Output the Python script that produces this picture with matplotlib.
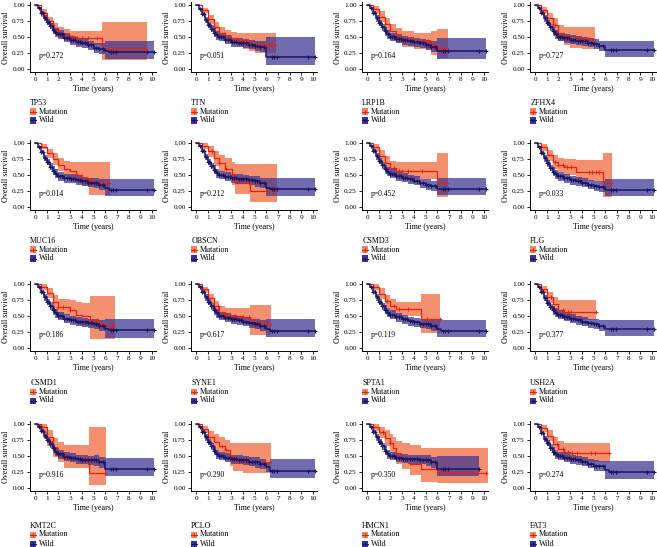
import numpy as np
import matplotlib
matplotlib.use("Agg")
import matplotlib.pyplot as plt
from matplotlib.patches import Rectangle
from matplotlib.lines import Line2D

plt.rcParams["font.family"] = ["Liberation Serif", "DejaVu Serif"]

genes = ["TP53", "TTN", "LRP1B", "ZFHX4",
         "MUC16", "OBSCN", "CSMD3", "FLG",
         "CSMD1", "SYNE1", "SPTA1", "USH2A",
         "KMT2C", "PCLO", "HMCN1", "FAT3"]
p_values = ["0.272", "0.051", "0.164", "0.727",
            "0.014", "0.212", "0.452", "0.033",
            "0.186", "0.617", "0.119", "0.377",
            "0.916", "0.290", "0.350", "0.274"]

# mutation group: step times, survival, CI lower / upper
mut_t = [
    [0, .5, 1, 1.5, 2, 2.5, 3, 3.5, 5.7, 9.6],
    [0, .5, 1, 1.5, 2, 2.5, 3, 3.5, 4, 4.5, 5, 6.8],
    [0, .5, 1, 1.5, 2, 2.5, 3, 4, 5, 5.5, 6, 6.9],
    [0, .5, 1, 1.5, 2, 2.5, 3, 4, 5.1],
    [0, .5, 1, 1.5, 2, 2.5, 3, 3.5, 4, 4.6, 5, 6.4],
    [0, .5, 1, 1.5, 2, 2.5, 3.1, 3.3, 4.6, 6.9],
    [0, .5, 1, 1.5, 2, 2.5, 6.0, 6.9],
    [0, .5, 1, 1.5, 2, 2.5, 3.5, 5.8, 6.6],
    [0, .5, 1, 1.5, 2, 3, 3.5, 4, 4.7, 5.5, 6, 6.8],
    [0, .5, 1, 1.5, 2, 2.5, 3, 4, 4.6, 5, 6, 6.4],
    [0, .5, 1, 1.5, 2, 2.5, 4.6, 6.2],
    [0, .5, 1, 1.5, 2, 2.5, 5.2],
    [0, .5, 1, 1.5, 2, 2.5, 4.6, 6.1],
    [0, .5, 1, 1.5, 2, 2.5, 2.9, 3.2, 4, 6.4],
    [0, .5, 1, 1.5, 2, 2.2, 2.5, 3, 3.7, 4.6, 6.0, 10.3],
    [0, .5, 1, 1.5, 2, 2.5, 3, 6.45],
]
mut_s = [
    [1, .88, .75, .64, .57, .53, .50, .48, .32, .32],
    [1, .92, .78, .65, .57, .52, .48, .46, .43, .40, .38, .38],
    [1, .93, .82, .70, .59, .52, .47, .44, .43, .38, .33, .33],
    [1, .92, .79, .68, .56, .51, .49, .47, .46],
    [1, .94, .84, .75, .66, .60, .56, .50, .45, .41, .37, .37],
    [1, .96, .88, .76, .68, .60, .50, .37, .25, .25],
    [1, .93, .80, .69, .61, .57, .37, .37],
    [1, .93, .81, .71, .66, .63, .55, .37, .37],
    [1, .96, .86, .72, .64, .60, .52, .50, .44, .38, .34, .34],
    [1, .92, .78, .65, .57, .52, .50, .48, .45, .40, .37, .37],
    [1, .95, .85, .73, .65, .61, .46, .46],
    [1, .92, .79, .68, .60, .57, .57],
    [1, .95, .79, .63, .55, .47, .23, .23],
    [1, .92, .79, .72, .66, .60, .50, .43, .41, .41],
    [1, .95, .88, .78, .70, .62, .53, .46, .37, .30, .23, .23],
    [1, .93, .81, .69, .61, .57, .54, .54],
]
mut_hi = [
    [1, .93, .82, .72, .65, .62, .60, .60, .73, .73],
    [1, .96, .85, .73, .65, .61, .58, .57, .56, .56, .56, .56],
    [1, .98, .90, .80, .70, .64, .60, .57, .57, .60, .63, .63],
    [1, .97, .88, .79, .68, .66, .66, .66, .66],
    [1, .98, .91, .84, .76, .72, .70, .70, .70, .70, .70, .70],
    [1, 1.0, .96, .88, .82, .76, .70, .67, .67, .67],
    [1, .98, .89, .80, .72, .70, .85, .85],
    [1, .98, .89, .81, .76, .75, .74, .85, .85],
    [1, 1.0, .93, .83, .77, .75, .72, .70, .82, .82, .82, .82],
    [1, .96, .85, .74, .66, .63, .63, .63, .67, .67, .67, .67],
    [1, 1.0, .93, .83, .76, .72, .84, .84],
    [1, .97, .88, .79, .75, .75, .75],
    [1, 1.0, .90, .78, .72, .67, .96, .96],
    [1, .97, .89, .85, .80, .75, .70, .70, .70, .70],
    [1, 1.0, .96, .90, .85, .80, .73, .70, .67, .63, .63, .63],
    [1, .98, .90, .80, .74, .71, .70, .70],
]
mut_lo = [
    [1, .82, .68, .56, .49, .45, .41, .38, .14, .14],
    [1, .88, .71, .57, .49, .44, .39, .36, .32, .28, .25, .25],
    [1, .88, .74, .60, .48, .41, .35, .31, .29, .22, .17, .17],
    [1, .87, .70, .57, .44, .37, .33, .32, .32],
    [1, .90, .77, .66, .56, .49, .43, .38, .33, .18, .18, .18],
    [1, .90, .78, .64, .54, .45, .35, .20, .08, .08],
    [1, .88, .71, .58, .49, .43, .16, .16],
    [1, .88, .72, .60, .54, .50, .40, .16, .16],
    [1, .91, .78, .60, .51, .45, .38, .35, .14, .14, .14, .14],
    [1, .87, .71, .57, .48, .43, .40, .37, .20, .20, .20, .20],
    [1, .90, .76, .63, .54, .50, .24, .24],
    [1, .86, .70, .57, .48, .43, .43],
    [1, .88, .66, .48, .40, .31, .05, .05],
    [1, .86, .69, .59, .52, .44, .34, .26, .24, .24],
    [1, .89, .78, .65, .55, .47, .37, .30, .20, .09, .08, .08],
    [1, .88, .73, .59, .49, .44, .41, .41],
]
mut_censor = [
    [3.2, 3.6, 4.0, 4.5, 5.3, 6.6, 9.4],
    [3.6, 4.2, 4.6, 5.2, 5.9, 6.2, 6.5],
    [3.5, 4.0, 4.8, 5.2, 6.5],
    [1.7, 3.0, 3.5, 4.2, 4.6],
    [3.6, 4.8, 5.6, 6.3],
    [1.4, 2.0, 2.6, 6.5],
    [2.3, 2.7, 3.0, 3.5, 4.7, 6.7],
    [1.7, 2.0, 2.4, 2.7, 3.1, 4.6, 4.9, 5.2, 5.5, 6.5],
    [1.5, 2.0, 2.4, 3.0, 5.6, 6.6],
    [1.9, 2.6, 3.3, 4.0, 4.5, 6.3],
    [1.7, 2.3, 2.7, 3.5, 5.1, 6.2],
    [1.4, 2.4, 2.8, 3.1, 5.2],
    [0.6, 2.5, 6.0],
    [2.2, 2.6, 3.6, 6.3],
    [1.4, 2.0, 7.0, 10.2],
    [1.9, 2.4, 2.8, 3.2, 3.6, 4.8, 5.1, 6.3],
]

# wild group: shared step times, last time per panel
wild_t = [0, .25, .5, .75, 1, 1.25, 1.5, 1.75, 2, 2.5, 3, 3.5, 4, 4.5, 5, 5.5, 6, 6.3]
wild_end = [10.2, 10.2, 10.2, 10.2, 10.2, 10.2, 10.2, 10.2,
            10.2, 10.2, 10.2, 10.2, 10.2, 10.2, 9.6, 10.2]
wild_s = [
    [1, .95, .88, .80, .73, .67, .61, .57, .54, .49, .45, .42, .40, .37, .33, .32, .28, .27],
    [1, .94, .86, .77, .69, .63, .57, .53, .50, .46, .42, .41, .40, .38, .36, .35, .18, .18],
    [1, .95, .87, .79, .72, .65, .59, .54, .50, .47, .45, .43, .42, .40, .38, .35, .28, .28],
    [1, .95, .87, .79, .72, .65, .59, .54, .50, .48, .46, .44, .43, .41, .39, .36, .30, .29],
    [1, .94, .86, .77, .70, .63, .57, .52, .48, .45, .44, .42, .40, .38, .37, .35, .30, .27],
    [1, .95, .87, .78, .70, .64, .58, .53, .50, .47, .45, .44, .43, .42, .40, .38, .30, .28],
    [1, .95, .87, .79, .72, .65, .59, .55, .52, .48, .46, .43, .41, .37, .35, .33, .28, .28],
    [1, .94, .85, .76, .68, .61, .55, .51, .48, .45, .42, .40, .38, .35, .33, .32, .27, .27],
    [1, .95, .87, .79, .72, .65, .59, .54, .50, .46, .43, .41, .40, .39, .38, .35, .30, .28],
    [1, .95, .87, .79, .72, .65, .59, .54, .50, .47, .45, .43, .41, .39, .37, .35, .30, .27],
    [1, .95, .87, .79, .72, .65, .60, .55, .52, .48, .45, .42, .40, .38, .37, .35, .30, .27],
    [1, .95, .87, .78, .70, .64, .59, .55, .52, .49, .46, .43, .41, .39, .37, .35, .29, .29],
    [1, .96, .89, .82, .75, .68, .62, .57, .53, .49, .47, .45, .44, .43, .43, .40, .30, .30],
    [1, .95, .87, .79, .72, .65, .58, .53, .50, .47, .45, .44, .43, .41, .40, .37, .33, .27],
    [1, .95, .87, .79, .72, .65, .58, .53, .50, .47, .46, .45, .45, .44, .43, .40, .30, .30],
    [1, .95, .86, .77, .70, .63, .57, .53, .50, .47, .45, .43, .41, .38, .35, .34, .28, .25],
]
wild_hi = [
    [1, .97, .91, .85, .78, .72, .68, .64, .61, .56, .52, .49, .47, .44, .41, .40, .44, .44],
    [1, .96, .89, .82, .74, .68, .64, .60, .57, .53, .49, .48, .47, .45, .44, .43, .50, .50],
    [1, .97, .90, .84, .77, .70, .66, .61, .57, .54, .52, .50, .49, .47, .46, .43, .48, .48],
    [1, .97, .90, .84, .77, .70, .66, .61, .57, .55, .53, .51, .50, .48, .47, .44, .44, .44],
    [1, .96, .89, .82, .75, .68, .64, .59, .55, .52, .51, .49, .47, .45, .45, .43, .43, .43],
    [1, .97, .90, .83, .75, .69, .65, .60, .57, .54, .52, .51, .50, .49, .48, .46, .46, .46],
    [1, .97, .90, .84, .77, .70, .66, .62, .59, .55, .53, .50, .48, .44, .43, .41, .45, .45],
    [1, .96, .88, .81, .73, .66, .62, .58, .55, .52, .49, .47, .45, .42, .41, .40, .43, .43],
    [1, .97, .90, .84, .77, .70, .66, .61, .57, .53, .50, .48, .47, .46, .46, .43, .45, .45],
    [1, .97, .90, .84, .77, .70, .66, .61, .57, .54, .52, .50, .48, .46, .45, .43, .46, .46],
    [1, .97, .90, .84, .77, .70, .67, .62, .59, .55, .52, .49, .47, .45, .45, .43, .43, .43],
    [1, .97, .90, .83, .75, .69, .66, .62, .59, .56, .53, .50, .48, .46, .45, .43, .43, .43],
    [1, .98, .92, .87, .80, .73, .69, .64, .60, .56, .54, .52, .51, .50, .51, .48, .47, .47],
    [1, .97, .90, .84, .77, .70, .65, .60, .57, .54, .52, .51, .50, .48, .48, .45, .41, .45],
    [1, .97, .90, .84, .77, .70, .65, .60, .57, .54, .53, .52, .52, .51, .51, .48, .50, .50],
    [1, .97, .89, .82, .75, .68, .64, .60, .57, .54, .52, .50, .48, .45, .43, .42, .42, .42],
]
wild_lo = [
    [1, .93, .85, .75, .68, .62, .54, .50, .47, .42, .38, .35, .33, .30, .25, .24, .15, .15],
    [1, .92, .83, .72, .64, .58, .50, .46, .43, .39, .35, .34, .33, .31, .28, .27, .06, .06],
    [1, .93, .84, .74, .67, .60, .52, .47, .43, .40, .38, .36, .35, .33, .30, .27, .15, .15],
    [1, .93, .84, .74, .67, .60, .52, .47, .43, .41, .39, .37, .36, .34, .31, .28, .18, .18],
    [1, .92, .83, .72, .65, .58, .50, .45, .41, .38, .37, .35, .33, .31, .29, .27, .17, .17],
    [1, .93, .84, .73, .65, .59, .51, .46, .43, .40, .38, .37, .36, .35, .32, .30, .17, .17],
    [1, .93, .84, .74, .67, .60, .52, .48, .45, .41, .39, .36, .34, .30, .27, .25, .18, .18],
    [1, .92, .82, .71, .63, .56, .48, .44, .41, .38, .35, .33, .31, .28, .25, .24, .17, .17],
    [1, .93, .84, .74, .67, .60, .52, .47, .43, .39, .36, .34, .33, .32, .30, .27, .15, .15],
    [1, .93, .84, .74, .67, .60, .52, .47, .43, .40, .38, .36, .34, .32, .29, .27, .17, .17],
    [1, .93, .84, .74, .67, .60, .53, .48, .45, .41, .38, .35, .33, .31, .29, .27, .17, .17],
    [1, .93, .84, .73, .65, .59, .52, .48, .45, .42, .39, .36, .34, .32, .29, .27, .18, .18],
    [1, .94, .86, .77, .70, .63, .55, .50, .46, .42, .40, .38, .37, .36, .35, .32, .18, .18],
    [1, .93, .84, .74, .67, .60, .51, .46, .43, .40, .38, .37, .36, .34, .32, .29, .25, .15],
    [1, .93, .84, .74, .67, .60, .51, .46, .43, .40, .39, .38, .38, .37, .35, .32, .18, .18],
    [1, .93, .83, .72, .65, .58, .50, .46, .43, .40, .38, .36, .34, .31, .27, .26, .14, .14],
]
wild_censor = [0.35, 0.55, 0.7, 0.85, 1.0, 1.15, 1.3, 1.5, 1.65, 1.8, 2.0, 2.15,
               2.3, 2.5, 2.7, 2.9, 3.05, 3.25, 3.45, 3.65, 3.85, 4.05, 4.3, 4.5,
               4.75, 5.0, 5.25, 5.5, 5.8, 6.5, 6.7, 6.9, 9.6, 10.2]

MUT_LINE = "#E4200E"
MUT_FILL = "#F4845F"
WILD_LINE = "#1A1660"
WILD_FILL = "#3A3494"

W_PX, H_PX = 657, 547
zero_x = [35, 196, 367, 535]      # pixel x of time 0 per column
zero_y = [69, 207, 348, 488]      # pixel y of survival 0 per row
legend_y = [103, 241, 383, 526]
PX_YR, PX_UNIT = 11.7, 64
XMIN, XMAX, YMIN, YMAX = -0.45, 10.35, -0.05, 1.04


def step_value(t, s, x):
    idx = np.searchsorted(t, x, side="right") - 1
    return np.asarray(s)[idx]


fig = plt.figure(figsize=(W_PX / 100, H_PX / 100), dpi=100)

for k, gene in enumerate(genes):
    r, c = divmod(k, 4)
    left = zero_x[c] + XMIN * PX_YR
    bottom = zero_y[r] - YMIN * PX_UNIT
    w = (XMAX - XMIN) * PX_YR
    h = (YMAX - YMIN) * PX_UNIT
    ax = fig.add_axes([left / W_PX, 1 - bottom / H_PX, w / W_PX, h / H_PX])

    wt = np.array(wild_t + [wild_end[k]])
    ws = np.array(wild_s[k] + [wild_s[k][-1]])
    wl = np.array(wild_lo[k] + [wild_lo[k][-1]])
    wh = np.array(wild_hi[k] + [wild_hi[k][-1]])
    mt = np.array(mut_t[k])
    ms = np.array(mut_s[k])

    ax.fill_between(mt, mut_lo[k], mut_hi[k], step="post", color=MUT_FILL,
                    alpha=0.9, lw=0)
    ax.fill_between(wt, wl, wh, step="post", color=WILD_FILL, alpha=0.72, lw=0)
    ax.step(mt, ms, where="post", color=MUT_LINE, lw=0.9)
    ax.step(wt, ws, where="post", color=WILD_LINE, lw=1.1)

    mc = np.array(mut_censor[k])
    mc = mc[mc <= mt[-1]]
    ax.plot(mc, step_value(mt, ms, mc), "+", color=MUT_LINE, ms=3.2, mew=0.7)
    wc = np.array(wild_censor)
    wc = wc[wc <= wt[-1]]
    ax.plot(wc, step_value(wt, ws, wc), "+", color=WILD_LINE, ms=3.5, mew=0.8)

    ax.text(0.3, 0.2, "p=" + p_values[k], fontsize=5.5, va="center")

    ax.set_xlim(XMIN, XMAX)
    ax.set_ylim(YMIN, YMAX)
    ax.set_xticks(range(0, 11))
    ax.set_yticks([0, 0.25, 0.5, 0.75, 1.0])
    ax.set_yticklabels(["0.00", "0.25", "0.50", "0.75", "1.00"])
    ax.tick_params(labelsize=5.2, length=2, width=0.6, pad=1.5)
    for side in ["top", "right"]:
        ax.spines[side].set_visible(False)
    for side in ["left", "bottom"]:
        ax.spines[side].set_linewidth(0.7)
    ax.set_xlabel("Time (years)", fontsize=5.8, labelpad=2)
    ax.set_ylabel("Overall survival", fontsize=5.8, labelpad=1.5)

    # legend below each panel
    lx = left + 0.5
    ly = legend_y[r]
    fig.text(lx / W_PX, 1 - ly / H_PX, gene, fontsize=5.8, va="center")
    for j, (lab, fc, lc) in enumerate([("Mutation", MUT_FILL, MUT_LINE),
                                       ("Wild", WILD_FILL, WILD_LINE)]):
        yy = ly + 8.5 + 9 * j
        fig.add_artist(Rectangle((lx / W_PX, 1 - (yy + 3) / H_PX),
                                 6 / W_PX, 6 / H_PX, transform=fig.transFigure,
                                 facecolor=fc, edgecolor="none"))
        fig.add_artist(Line2D([lx / W_PX, (lx + 6) / W_PX],
                              [1 - yy / H_PX] * 2, transform=fig.transFigure,
                              color=lc, lw=0.8))
        fig.add_artist(Line2D([(lx + 3) / W_PX], [1 - yy / H_PX],
                              transform=fig.transFigure, color=lc,
                              marker="+", ms=3, mew=0.7))
        fig.text((lx + 9) / W_PX, 1 - yy / H_PX, lab, fontsize=5.8, va="center")

fig.savefig("out.png", dpi=100)
